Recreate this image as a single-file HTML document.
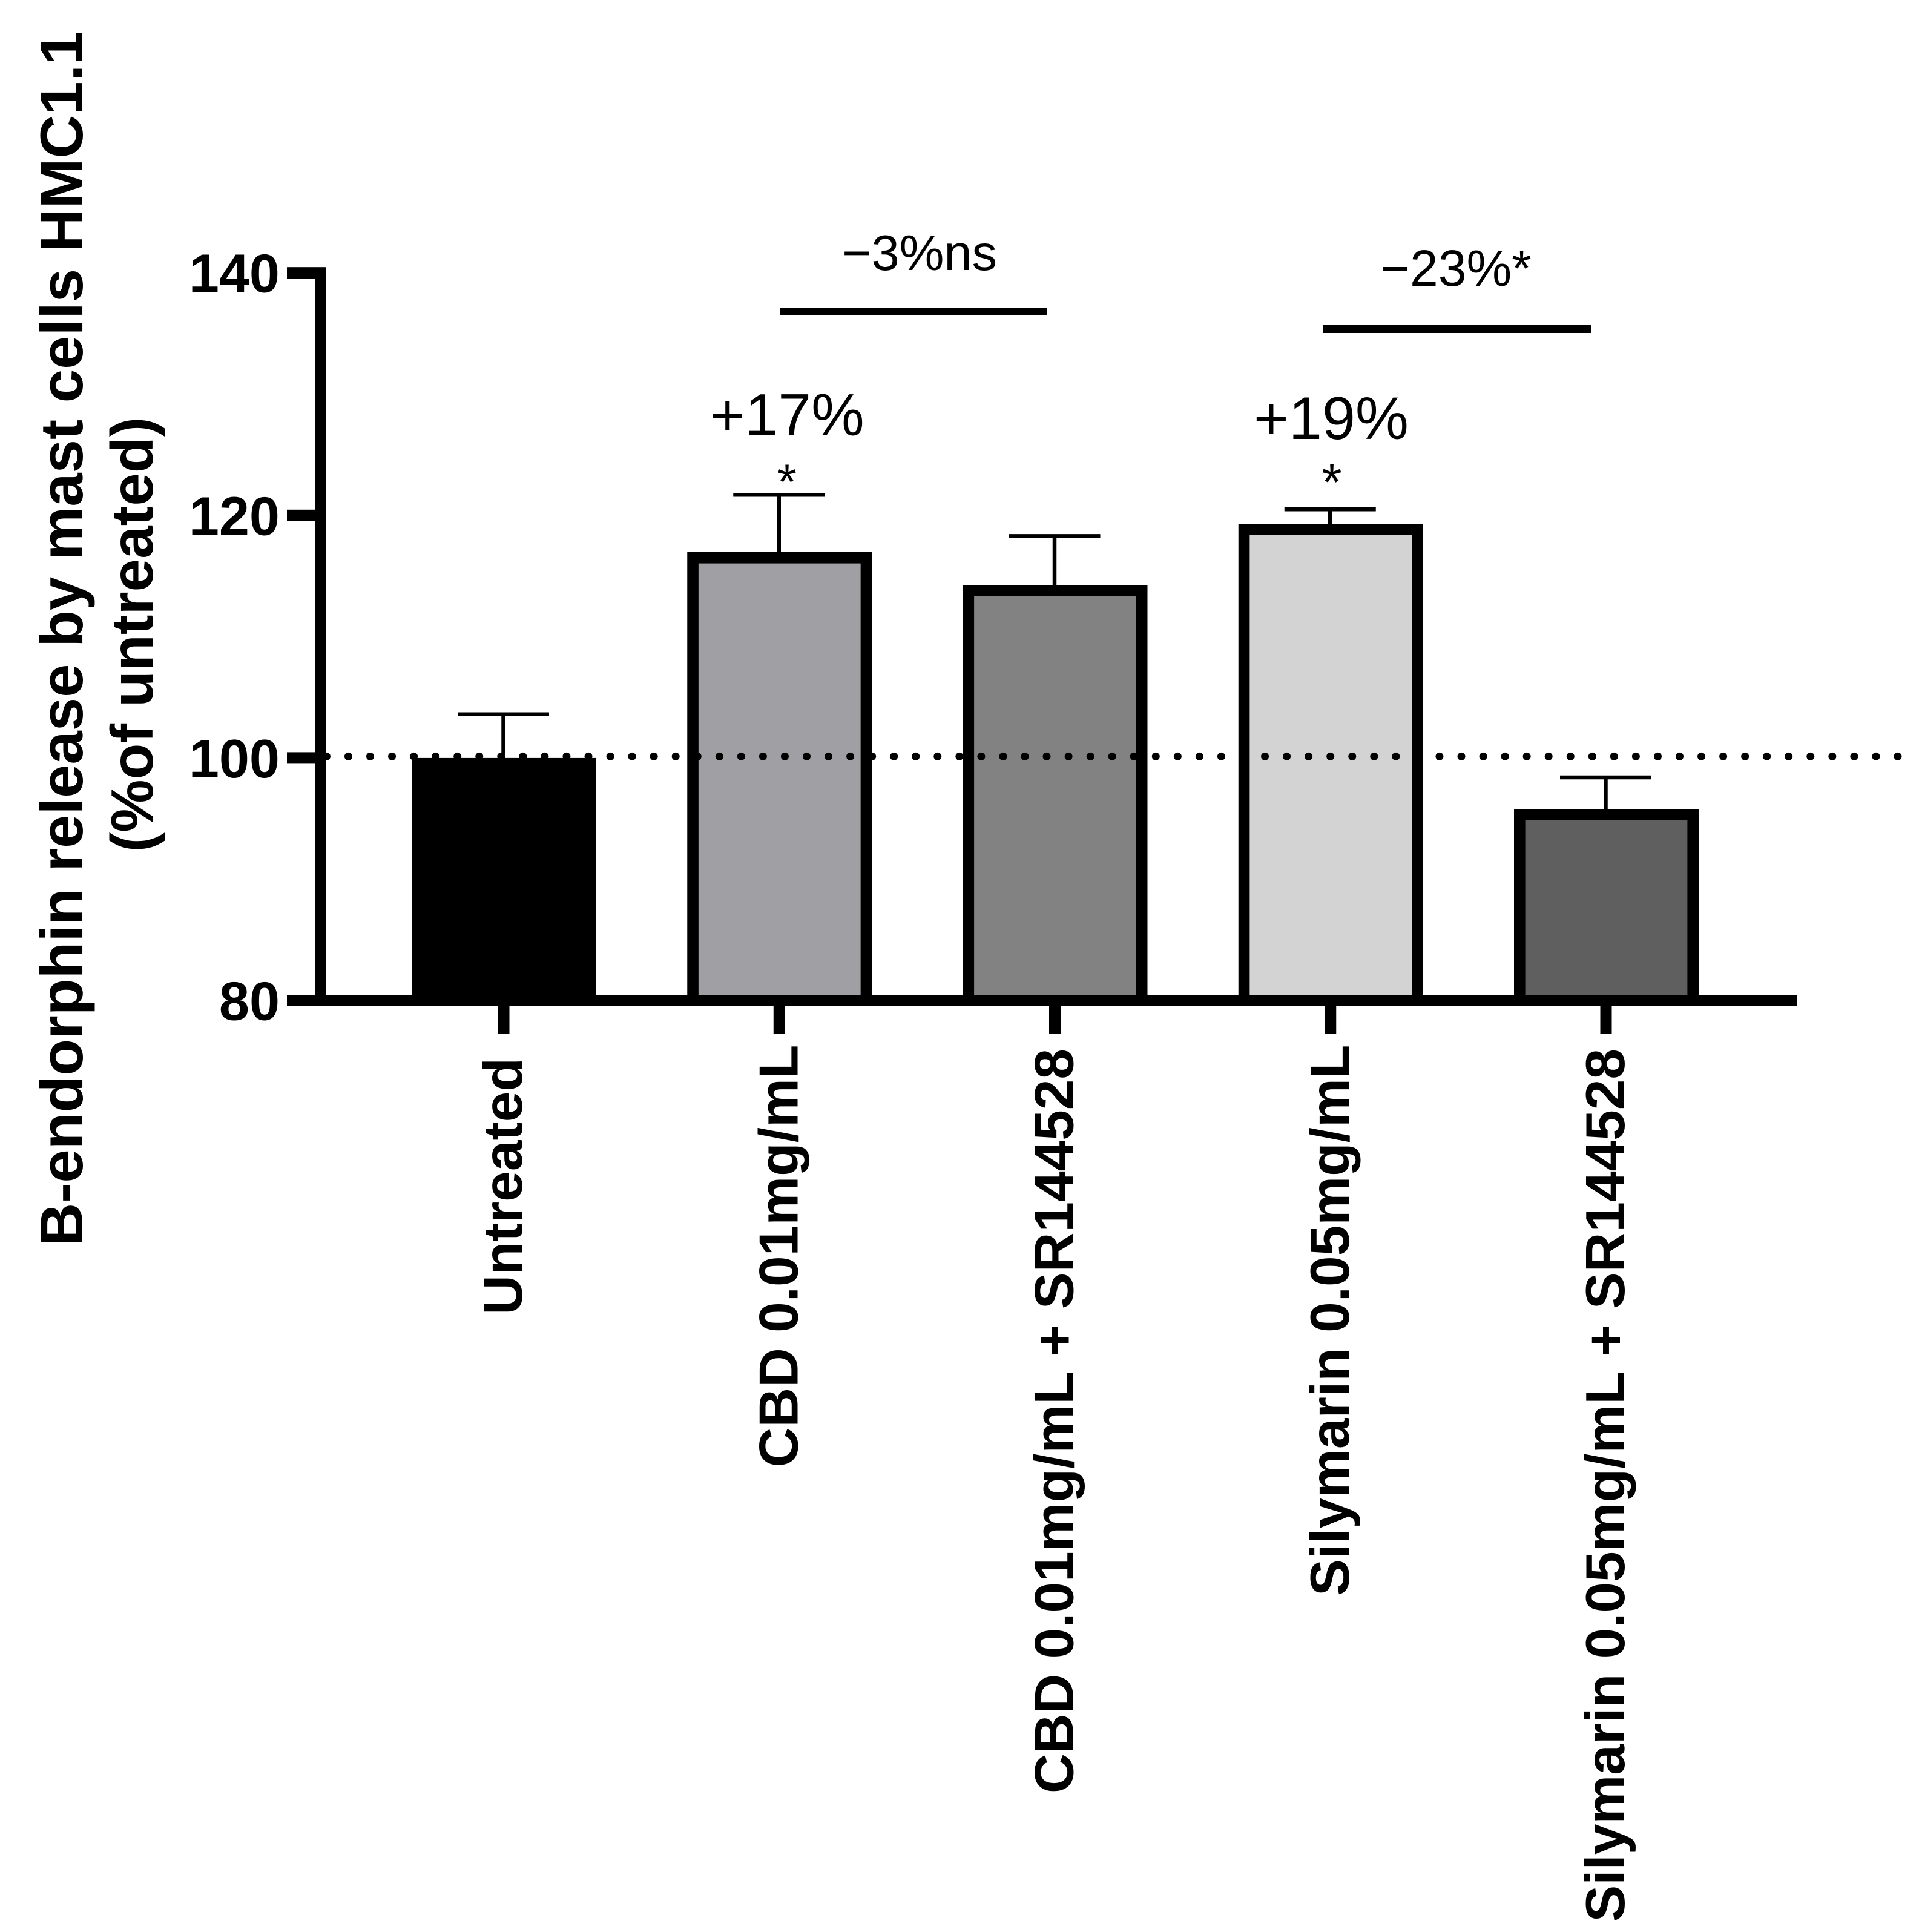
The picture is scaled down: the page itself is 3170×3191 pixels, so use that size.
<!DOCTYPE html>
<html lang="en">
<head>
<meta charset="utf-8">
<title>B-endorphin release by mast cells HMC1.1</title>
<style>
html,body{margin:0;padding:0;background:#fff;}
svg{display:block;}
text{font-family:"Liberation Sans",Arial,sans-serif;fill:#000;}
.b{font-weight:bold;}
</style>
</head>
<body>
<svg id="chart" xmlns="http://www.w3.org/2000/svg" width="3170" height="3191" viewBox="0 0 3170 3191">
  <rect x="0" y="0" width="3170" height="3191" fill="#fff"/>
  <text class="b" font-size="99.5" text-anchor="middle" transform="translate(136 1055) rotate(-90)">B-endorphin release by mast cells HMC1.1</text>
  <text class="b" font-size="98" text-anchor="middle" transform="translate(252 1048) rotate(-90)">(%of untreated)</text>
  <g id="bars"></g>
  <g id="reference"></g>
  <g id="axes"></g>
  <g>
    <text font-size="98.5" x="1173" y="719">+17%</text>
    <text font-size="82" text-anchor="middle" x="1300" y="824">*</text>
    <text font-size="99" x="2071" y="725">+19%</text>
    <text font-size="86" text-anchor="middle" x="2200" y="826">*</text>
    <text font-size="83" x="1391" y="446">−3%ns</text>
    <rect x="1288" y="508" width="442" height="13" fill="#000"/>
    <text font-size="84" x="2280" y="472">−23%*</text>
    <rect x="2186" y="537" width="442" height="13" fill="#000"/>
  </g>
</svg>
<script>
var categories = ["Untreated", "CBD 0.01mg/mL", "CBD 0.01mg/mL + SR144528", "Silymarin 0.05mg/mL", "Silymarin 0.05mg/mL + SR144528"];
var barValues = [100, 116.97, 114.27, 119.3, 95.8];
var errorTops = [103.6, 121.7, 118.3, 120.5, 98.4];
var barFills = ["#000000", "#a09fa4", "#828282", "#d3d3d3", "#5f5f5f"];
var yTicks = [80, 100, 120, 140];
var referenceValue = [100];

var NS = "http://www.w3.org/2000/svg";
function yScale(v) { return 1652.5 - (v - 80) * 20.03; }
function xScale(i) { return 832 + 455.25 * i; }
function labelEnd(i) { return i === 0 ? 1747 : (i % 2 ? 1725.5 : 1732); }
function make(parent, tag, attrs, text) {
  var el = document.createElementNS(NS, tag);
  for (var k in attrs) { el.setAttribute(k, attrs[k]); }
  if (text !== undefined) { el.textContent = text; }
  parent.appendChild(el);
  return el;
}

var barsG = document.getElementById("bars");
var axesG = document.getElementById("axes");
var refG = document.getElementById("reference");
var barW = 305, stroke = 18.6, capW = 151, errW = 6.5;

categories.forEach(function (cat, i) {
  var cx = xScale(i);
  var top = yScale(barValues[i]);
  var base = yScale(80);
  var cap = yScale(errorTops[i]);

  var stem = make(barsG, "line", {x1: cx - 0.5, x2: cx - 0.5, y1: cap, y2: top + 2, stroke: "#000", "stroke-width": errW});
  
  

  var capLine = make(barsG, "line", {x1: cx - 0.5 - capW / 2, x2: cx - 0.5 + capW / 2, y1: cap, y2: cap, stroke: "#000", "stroke-width": errW});
  
  

  var bar = make(barsG, "rect", {
    x: cx - barW / 2 + stroke / 2 + 0.5,
    y: top + stroke / 2,
    width: barW - stroke,
    height: base - top - stroke / 2,
    fill: barFills[i],
    stroke: "#000",
    "stroke-width": stroke
  });
  
  

  var tick = make(axesG, "rect", {x: cx - 9.5, y: 1662, width: 19, height: 45, fill: "#000"});
  
  

  var label = make(axesG, "text", {"class": "b", "font-size": 91, "text-anchor": "end", transform: "translate(" + (cx + 30) + " " + labelEnd(i) + ") rotate(-90)"}, cat);
  
  
});

var refLine = make(refG, "line", {x1: 539.4, x2: 3140, y1: yScale(referenceValue[0]) - 2.5, y2: yScale(referenceValue[0]) - 2.5, stroke: "#000", "stroke-width": 13, "stroke-linecap": "round", "stroke-dasharray": "0 36.05"});



var yAxis = make(axesG, "rect", {x: 520, y: yScale(140) - 9.5, width: 19, height: yScale(80) - yScale(140) + 19, fill: "#000"});



var xAxis = make(axesG, "rect", {x: 520, y: yScale(80) - 9.5, width: 2449, height: 19, fill: "#000"});



yTicks.forEach(function (t) {
  var y = yScale(t);
  var mark = make(axesG, "rect", {x: 474, y: y - 9.5, width: 46, height: 19, fill: "#000"});
  
  

  var lab = make(axesG, "text", {"class": "b", "font-size": 90, "text-anchor": "end", x: 462, y: y + 32}, String(t));
  
  
});
</script>
</body>
</html>
